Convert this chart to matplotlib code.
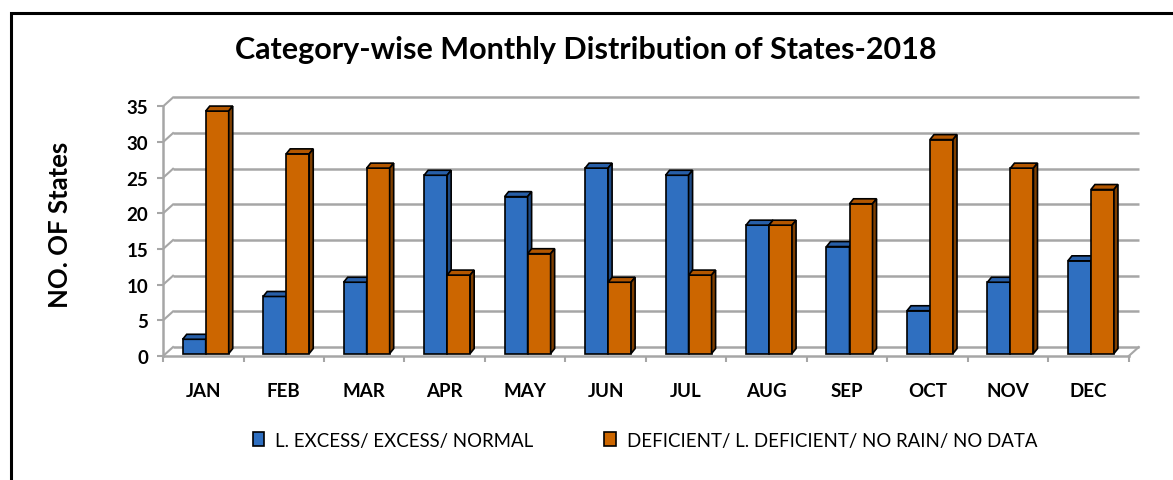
import matplotlib
matplotlib.use("Agg")
import matplotlib.pyplot as plt
from matplotlib.patches import Polygon, Rectangle, Patch
import numpy as np

months = ["JAN", "FEB", "MAR", "APR", "MAY", "JUN",
          "JUL", "AUG", "SEP", "OCT", "NOV", "DEC"]
normal_states = [2, 8, 10, 25, 22, 26, 25, 18, 15, 6, 10, 13]
deficient_states = [34, 28, 26, 11, 14, 10, 11, 18, 21, 30, 26, 23]
series_labels = ["L. EXCESS/ EXCESS/ NORMAL",
                 "DEFICIENT/ L. DEFICIENT/ NO RAIN/ NO DATA"]
y_ticks = [0, 5, 10, 15, 20, 25, 30, 35]

plt.rcParams["font.family"] = ["Lato", "DejaVu Sans"]

# face colours: front, top, side
BLUE = ("#2f6fc0", "#285fa8", "#1d4a85")
ORANGE = ("#cc6600", "#b35700", "#7f3f00")
GRID = "#a6a6a6"

fig = plt.figure(figsize=(11.73, 4.81), dpi=100)
ax = fig.add_axes([0.139, 0.2503, 0.837, 0.556])

n = len(months)
x = np.arange(n)
width = 0.286
base = 0.35          # bars sit slightly behind the front edge
shift = 0.03
bdx, bdy = 0.05, 0.7     # bar depth
wdx, wdy = 0.124, 1.26   # back wall offset


def draw_bar(xc, val, colors, z):
    left, right = xc - width / 2 + shift, xc + width / 2 + shift
    ax.bar(xc + shift, val, width=width, bottom=base, color=colors[0],
           edgecolor="black", linewidth=1.2, zorder=z)
    top = base + val
    ax.add_patch(Polygon([(left, top), (right, top), (right + bdx, top + bdy),
                          (left + bdx, top + bdy)], closed=True,
                         facecolor=colors[1], edgecolor="black",
                         linewidth=1.2, zorder=z))
    ax.add_patch(Polygon([(right, base), (right, top), (right + bdx, top + bdy),
                          (right + bdx, base + bdy)], closed=True,
                         facecolor=colors[2], edgecolor="black",
                         linewidth=1.2, zorder=z))


# back wall gridlines and the left wall joins
for t in y_ticks:
    ax.plot([-0.5 + wdx, n - 0.5 + wdx], [t + wdy, t + wdy],
            color=GRID, linewidth=1.8, zorder=1, solid_capstyle="butt")
    ax.plot([-0.5, -0.5 + wdx], [t, t + wdy], color=GRID, linewidth=1.5, zorder=1)
# floor right edge
ax.plot([n - 0.5, n - 0.5 + wdx], [0, wdy], color=GRID, linewidth=1.5, zorder=1)

for i in range(n):
    draw_bar(x[i] - width / 2, normal_states[i], BLUE, 3 + i * 0.01)
    draw_bar(x[i] + width / 2, deficient_states[i], ORANGE, 3.5 + i * 0.01)

ax.set_xlim(-0.5, n - 0.3)
ax.set_ylim(-0.5, 37)

for side in ["top", "right"]:
    ax.spines[side].set_visible(False)
ax.spines["left"].set_position(("data", -0.5))
ax.spines["left"].set_bounds(0, 35)
ax.spines["bottom"].set_position(("data", 0))
ax.spines["bottom"].set_bounds(-0.5, n - 0.5)
for side in ["left", "bottom"]:
    ax.spines[side].set_color(GRID)
    ax.spines[side].set_linewidth(1.8)

ax.set_yticks(y_ticks)
ax.set_yticklabels([str(t) for t in y_ticks], fontsize=13.5, fontweight="bold")
ax.tick_params(axis="y", length=4.5, width=1.5, color=GRID, pad=6)

ax.set_xticks(x)
ax.set_xticklabels(months, fontsize=13.5, fontweight="bold")
ax.set_xticks(np.arange(n + 1) - 0.5, minor=True)
ax.tick_params(axis="x", which="major", length=0, pad=19)
ax.tick_params(axis="x", which="minor", length=4.5, width=1.5, color=GRID)

fig.text(0.499, 0.897, "Category-wise Monthly Distribution of States-2018",
         ha="center", va="center", fontsize=22, fontweight="bold")
fig.text(0.051, 0.532, "NO. OF States", ha="center", va="center",
         rotation=90, fontsize=18.5, fontweight="bold")

handles = [Patch(facecolor=BLUE[0], edgecolor="black", linewidth=1.2),
           Patch(facecolor=ORANGE[0], edgecolor="black", linewidth=1.2)]
fig.legend(handles, series_labels, loc="center", bbox_to_anchor=(0.55, 0.083),
           ncol=2, frameon=False, fontsize=13.4, handlelength=0.6,
           handleheight=0.8, handletextpad=0.6, columnspacing=3.8)

# chart frame
fig.add_artist(Rectangle((0.0094, -0.2), 1.2, 0.971 + 0.2,
                         transform=fig.transFigure, fill=False,
                         edgecolor="black", linewidth=2.2))

fig.savefig("out.png", dpi=100)
